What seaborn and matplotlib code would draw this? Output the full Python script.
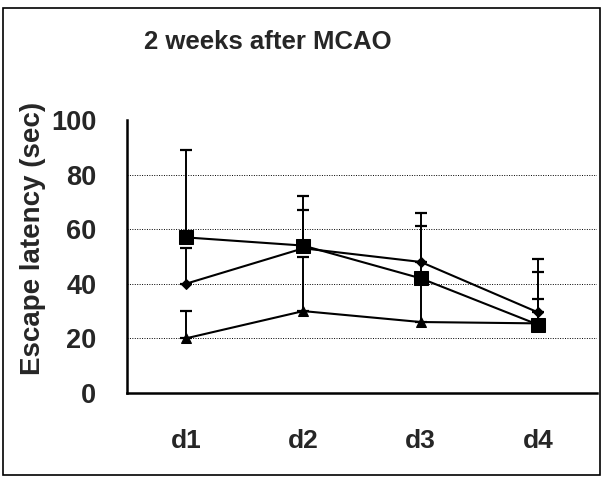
import numpy as np
import pandas as pd
import matplotlib
matplotlib.use("Agg")
import matplotlib.pyplot as plt
import seaborn as sns
from matplotlib.patches import Rectangle

days = ["d1", "d2", "d3", "d4"]
square_mean = [57, 54, 42, 25]
square_err = [32, 18, 19, 24]
diamond_mean = [40, 53, 48, 29.5]
diamond_err = [13, 14, 18, 15]
triangle_mean = [20, 30, 26, 25.5]
triangle_err = [10, 20, 16, 9]
yticks = [0, 20, 40, 60, 80, 100]

sns.set_style("white")
plt.rcParams["font.family"] = ["Liberation Sans", "DejaVu Sans"]
plt.rcParams["font.weight"] = "bold"

fig = plt.figure(figsize=(6.05, 4.79), dpi=100)
ax = fig.add_axes([127/605, 1-393/479, (597-127)/605, (393-120)/479])

pos = np.arange(len(days))
series = [
    ("square", square_mean, square_err, "s", 10.5),
    ("diamond", diamond_mean, diamond_err, "D", 5),
    ("triangle", triangle_mean, triangle_err, "^", 7),
]
for name, m, e, mk, ms in series:
    ax.errorbar(pos, m, yerr=[np.zeros(len(e)), e], fmt="none", ecolor="black",
                elinewidth=1.4, capsize=4.5, capthick=1.6, zorder=2)
    df = pd.DataFrame({"x": pos, "y": m})
    sns.lineplot(data=df, x="x", y="y", ax=ax, color="black", linewidth=1.5,
                 marker=mk, markersize=ms, markeredgecolor="black",
                 markerfacecolor="black", zorder=3)

ax.set_xlim(-0.5, 3.5)
ax.set_ylim(0, 100)
ax.set_yticks(yticks)
ax.set_yticklabels([str(v) for v in yticks], fontsize=19.5, fontweight="bold")
ax.set_xticks(pos)
ax.set_xticklabels(days, fontsize=19, fontweight="bold")
ax.set_xticks([0.5, 1.5, 2.5, 3.5], minor=True)
ax.tick_params(axis="x", which="major", length=0, pad=26)
ax.tick_params(axis="x", which="minor", direction="in", length=7, width=1.5)
ax.tick_params(axis="y", which="major", direction="in", length=6, width=1.5, pad=22)
for v in [20, 40, 60, 80]:
    ax.axhline(v, color="black", linestyle=(0, (1, 1.5)), linewidth=0.7, zorder=1)

ax.set_xlabel("")
ax.set_ylabel("Escape latency (sec)", fontsize=20, fontweight="bold")
ax.yaxis.set_label_coords(-0.172, 0.565)

for s in ["top", "right"]:
    ax.spines[s].set_visible(False)
for s in ["left", "bottom"]:
    ax.spines[s].set_linewidth(1.8)
    ax.spines[s].set_color("black")

fig.text(268/605, 1-42/479, "2 weeks after MCAO", ha="center", va="center",
         fontsize=18.5, fontweight="bold")
fig.patches.append(Rectangle((3/605, 1-475/479), 597/605, 467/479, transform=fig.transFigure,
                             fill=False, edgecolor="black", linewidth=1.2))

fig.savefig("out.png", dpi=100)
